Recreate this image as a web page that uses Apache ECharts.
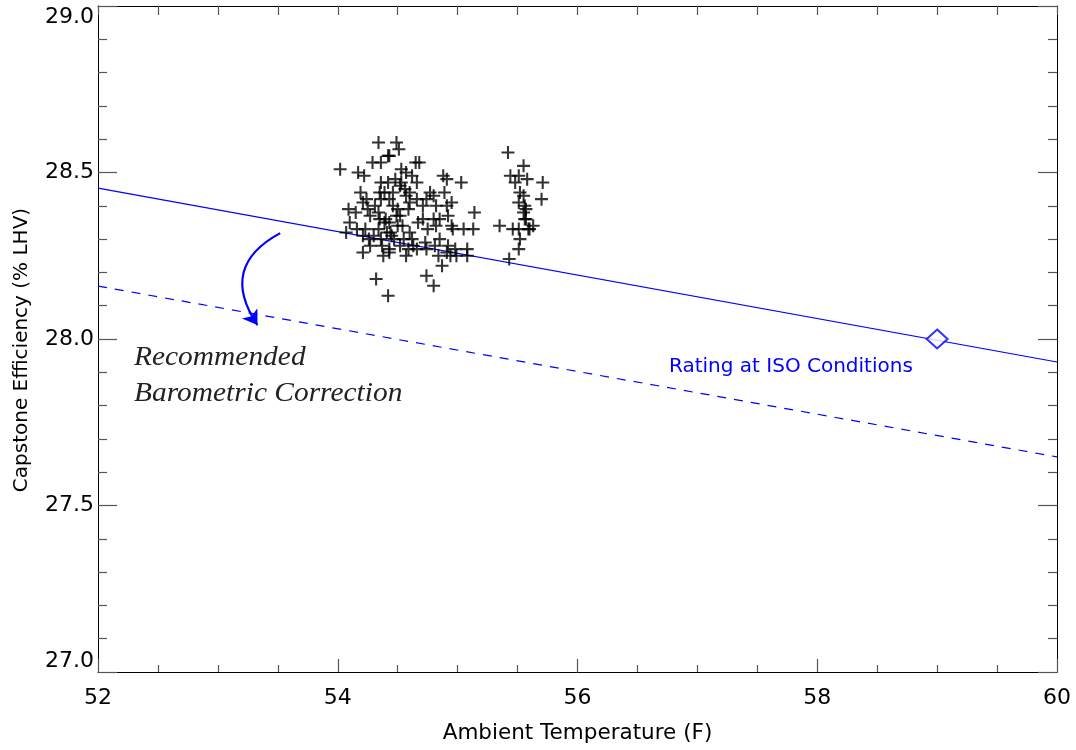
<!DOCTYPE html>
<html>
<head>
<meta charset="utf-8">
<script src="https://cdn.jsdelivr.net/npm/echarts@6/dist/echarts.min.js"></script>
<style>html,body{margin:0;padding:0;background:#fff;}#c{width:1076px;height:750px;}</style>
</head>
<body>
<div id="c"></div>
<script>
// ---- data ----
var xTicks = [52, 54, 56, 58, 60];
var yTicks = [27.0, 27.5, 28.0, 28.5, 29.0];
var measuredT = [54.34,54.49,54.51,54.43,54.42,54.29,54.36,54.65,54.68,54.02,54.17,54.22,54.53,54.57,54.62,54.66,54.88,54.91,55.03,54.36,54.42,54.53,54.52,54.35,54.39,54.46,54.60,54.36,54.43,54.57,54.66,54.77,54.74,54.89,54.24,54.21,54.09,54.25,54.34,54.46,54.50,54.60,54.59,54.49,54.52,54.71,54.82,54.91,54.95,55.14,54.27,54.35,54.39,54.71,54.80,54.85,54.92,54.95,54.50,54.43,54.34,54.16,54.23,54.07,54.21,54.30,54.41,54.60,54.75,54.82,54.96,55.05,55.13,54.36,54.55,54.63,54.73,54.81,54.92,54.74,54.52,54.43,54.59,54.66,54.91,54.94,54.99,55.08,55.08,54.21,54.38,54.43,54.57,54.84,54.87,54.74,54.80,54.32,54.42,55.42,55.55,55.44,55.51,55.48,55.58,55.71,55.52,55.55,55.51,55.70,55.56,55.57,55.55,55.57,55.56,55.63,55.60,55.35,55.46,55.51,55.59,55.52,55.51,55.43,54.44,54.47,54.37,54.27,54.54,54.67,54.85,54.98,54.15,54.10,54.80,54.40,54.45,54.31,54.56,54.62,54.48,54.19,54.26];
var measuredEff = [28.59,28.59,28.57,28.55,28.55,28.53,28.53,28.53,28.53,28.51,28.50,28.49,28.51,28.50,28.49,28.47,28.49,28.48,28.47,28.47,28.47,28.47,28.46,28.44,28.44,28.44,28.44,28.42,28.42,28.43,28.42,28.44,28.42,28.44,28.42,28.41,28.39,28.39,28.38,28.40,28.39,28.41,28.39,28.37,28.37,28.40,28.40,28.40,28.41,28.38,28.37,28.36,28.35,28.36,28.36,28.36,28.37,28.34,28.34,28.35,28.33,28.33,28.33,28.32,28.31,28.31,28.32,28.32,28.33,28.34,28.33,28.33,28.33,28.30,28.30,28.28,28.29,28.28,28.28,28.27,28.28,28.27,28.27,28.27,28.26,28.25,28.25,28.27,28.25,28.26,28.25,28.26,28.25,28.25,28.22,28.19,28.16,28.18,28.13,28.56,28.52,28.49,28.49,28.47,28.48,28.47,28.44,28.43,28.41,28.42,28.40,28.39,28.38,28.36,28.36,28.34,28.33,28.34,28.33,28.33,28.33,28.30,28.27,28.24,28.32,28.30,28.28,28.28,28.34,28.35,28.30,28.27,28.38,28.35,28.43,28.36,28.31,28.40,28.45,28.30,28.48,28.44,28.30];
var ratingLineT = [52, 60];
var ratingLineEff = [28.453, 27.931];
var correctedLineT = [52, 60];
var correctedLineEff = [28.159, 27.646];
var isoPointT = [59.0];
var isoPointEff = [28.0];
var arrowT = [53.52, 53.33];
var arrowEff = [28.318, 28.042];

function pairs(xs, ys) { return xs.map(function (x, i) { return [x, ys[i]]; }); }

var chart = echarts.init(document.getElementById('c'), null, { renderer: 'canvas' });
var FONT = '"DejaVu Sans", "Liberation Sans", Arial, sans-serif';
var tickColor = '#555';
var plus = 'path://M4.2,0H5.8V4.2H10V5.8H5.8V10H4.2V5.8H0V4.2H4.2Z';

function xAxisCfg(pos, labels) {
  return {
    type: 'value', position: pos, min: xTicks[0], max: xTicks[xTicks.length - 1], interval: 2,
    axisLine: { show: true, onZero: false, lineStyle: { color: '#000', width: 1 } },
    axisTick: { show: true, inside: true, length: labels ? 13 : 9, lineStyle: { color: tickColor, width: 1.2 } },
    minorTick: { show: true, splitNumber: 4, length: labels ? 7 : 9, lineStyle: { color: tickColor, width: 1.2 } },
    splitLine: { show: false },
    axisLabel: { show: labels, color: '#000', fontFamily: FONT, fontSize: 22, margin: 15 },
    name: labels ? 'Ambient Temperature (F)' : '', nameLocation: 'middle', nameGap: 50,
    nameTextStyle: { color: '#000', fontFamily: FONT, fontSize: 21.5 }
  };
}
function yAxisCfg(pos, labels) {
  return {
    type: 'value', position: pos, min: yTicks[0], max: yTicks[yTicks.length - 1], interval: 0.5,
    axisLine: { show: true, onZero: false, lineStyle: { color: '#000', width: 1 } },
    axisTick: { show: true, inside: true, length: 19, lineStyle: { color: tickColor, width: 1.2 } },
    minorTick: { show: true, splitNumber: 5, length: 9, lineStyle: { color: tickColor, width: 1.2 } },
    splitLine: { show: false },
    axisLabel: { show: labels, color: '#000', fontFamily: FONT, fontSize: 22, margin: 4,
      formatter: function (v) { return v.toFixed(1); },
      verticalAlignMaxLabel: 'top', verticalAlignMinLabel: 'bottom' }
  };
}

chart.setOption({
  backgroundColor: '#fff',
  animation: false,
  grid: { left: 98, right: 19, top: 6, bottom: 78, containLabel: false },
  xAxis: [xAxisCfg('bottom', true), xAxisCfg('top', false)],
  yAxis: [yAxisCfg('left', true), yAxisCfg('right', false)],
  series: [
    {
      type: 'line', data: pairs(ratingLineT, ratingLineEff), showSymbol: false, symbol: 'none',
      lineStyle: { color: '#0000ff', width: 1.2 }, z: 3
    },
    {
      type: 'line', data: pairs(correctedLineT, correctedLineEff), showSymbol: false, symbol: 'none',
      lineStyle: { color: '#0000ff', width: 1.2, type: [9, 8] }, z: 3
    },
    {
      type: 'scatter', data: pairs(measuredT, measuredEff), symbol: plus, symbolSize: 13,
      itemStyle: { color: '#000' }, z: 4
    },
    {
      type: 'scatter', data: pairs(isoPointT, isoPointEff), symbol: 'emptyDiamond', symbolSize: [21, 19],
      itemStyle: { color: '#0000ff', borderColor: '#0000ff', borderWidth: 1.1 }, z: 5
    },
    {
      type: 'lines', coordinateSystem: 'cartesian2d', polyline: false,
      data: [{ coords: pairs(arrowT, arrowEff) }],
      symbol: ['none', 'arrow'], symbolSize: 14,
      lineStyle: { color: '#0000ff', width: 2.2, curveness: -0.55, opacity: 1 }, z: 5
    }
  ],
  graphic: [
    { type: 'text', x: 22, y: 350, rotation: Math.PI / 2,
      style: { text: 'Capstone Efficiency (% LHV)', font: '20px "DejaVu Sans", "Liberation Sans", sans-serif', fill: '#000', align: 'center', verticalAlign: 'middle' } },
    { type: 'text', x: 134, y: 344, scaleX: 1.09, style: { text: 'Recommended', font: 'italic 27px "Liberation Serif", "Times New Roman", serif', fill: '#222' } },
    { type: 'text', x: 134, y: 380, scaleX: 1.09, style: { text: 'Barometric Correction', font: 'italic 27px "Liberation Serif", "Times New Roman", serif', fill: '#222' } },
    { type: 'text', x: 669, y: 357, style: { text: 'Rating at ISO Conditions', font: '20px "DejaVu Sans", "Liberation Sans", sans-serif', fill: '#0000ff' } }
  ]
});
</script>
</body>
</html>
